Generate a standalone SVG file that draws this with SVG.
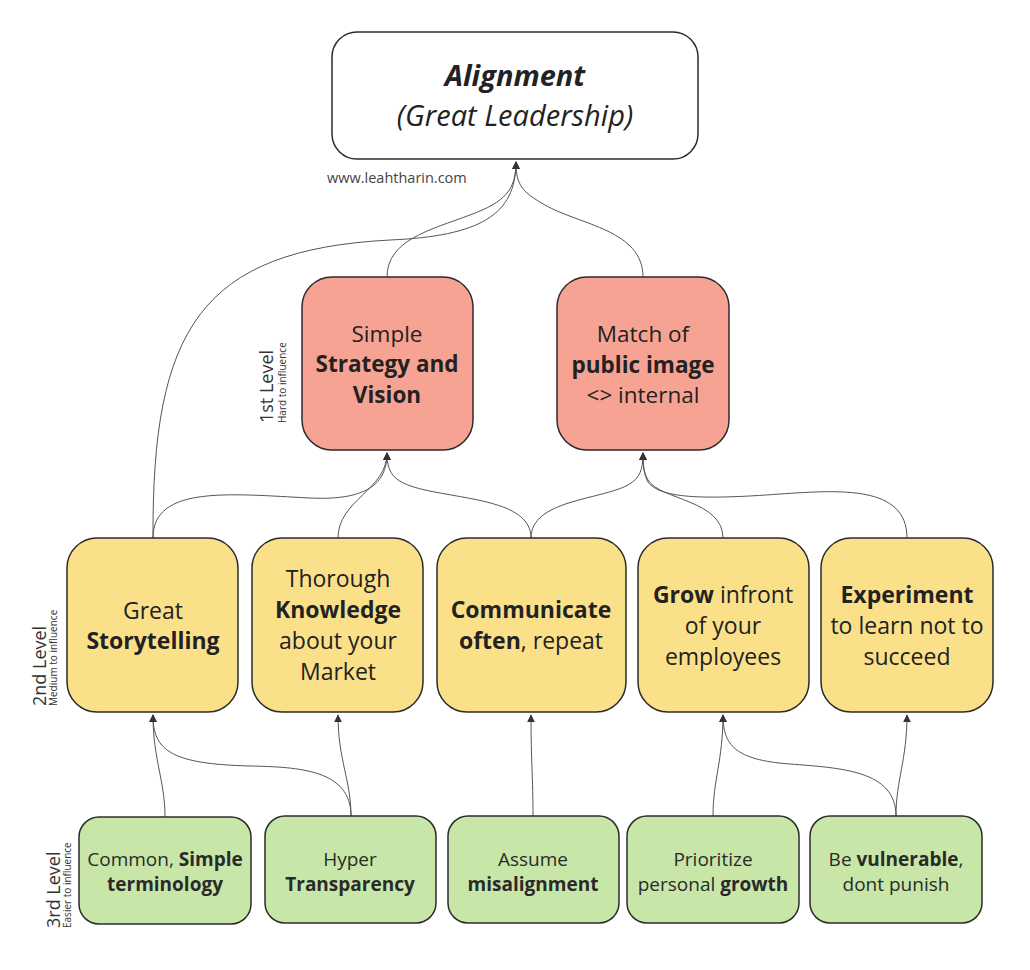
<svg xmlns="http://www.w3.org/2000/svg" width="1030" height="970" viewBox="0 0 1030 970">
<defs>
<marker id="arr" viewBox="0 0 10 10" refX="9" refY="5" markerWidth="8" markerHeight="8" markerUnits="userSpaceOnUse" orient="auto">
<path d="M0,0 L10,5 L0,10 z" fill="#333"/>
</marker>
<style>
text{font-family:"Open Sans","Noto Sans","Liberation Sans",sans-serif;fill:#222;}
.box{stroke:#2b2b2b;stroke-width:1.5;}
.red{fill:#F7A393;}
.yel{fill:#FBE08A;}
.grn{fill:#C8E6A8;}
.top{fill:#fff;}
.t22{font-size:22.5px;text-anchor:middle;}
.t23{font-size:23px;text-anchor:middle;}
.t18{font-size:19px;text-anchor:middle;fill:#2a2a2a;}
.b{font-weight:bold;}
.conn path{fill:none;stroke:#555;stroke-width:1;marker-end:url(#arr);}
.lvl{font-size:18px;fill:#333;}
.lvls{font-size:10px;fill:#333;}
</style>
</defs>
<rect width="1030" height="970" fill="#fff"/>

<g id="connectors" class="conn">
<path d="M153,538 C152,330 200,250 390,240 C480,236 516,215 516,162"/>
<path d="M387,277 C387,240 430,230 470,215 C505,202 516,190 516,162"/>
<path d="M643,277 C643,230 580,225 545,205 C522,192 516,185 516,162"/>
<path d="M153,538 C153,485 230,494 310,498 C372,501 387,480 387,453"/>
<path d="M338,538 C338,500 387,490 387,453"/>
<path d="M531,538 C531,502 470,500 425,490 C395,483 387,475 387,453"/>
<path d="M531,538 C531,500 600,500 628,485 C640,478 643,470 643,453"/>
<path d="M723,538 C723,500 660,500 648,480 C644,473 643,466 643,453"/>
<path d="M907,538 C907,485 840,490 780,494 C700,500 660,498 648,482 C644,475 643,466 643,453"/>
<path d="M165,817 C165,780 153,760 153,715"/>
<path d="M351,816 C351,770 300,767 250,766 C170,764 153,750 153,715"/>
<path d="M351,816 C351,780 338,760 338,715"/>
<path d="M533,816 C533,780 531,760 531,715"/>
<path d="M713,816 C713,780 723,760 723,715"/>
<path d="M896,816 C896,770 840,768 790,764 C735,760 723,745 723,715"/>
<path d="M896,816 C896,780 907,760 907,715"/>
</g>

<g id="n-alignment">
<rect class="box top" x="332" y="32" width="366" height="127" rx="25"/>
<text x="515" y="86" style="font-size:29px;text-anchor:middle;font-weight:bold;font-style:italic;">Alignment</text>
<text x="515" y="126" style="font-size:29px;text-anchor:middle;font-style:italic;">(Great Leadership)</text>
</g>
<g id="url">
<text x="327" y="183" style="font-size:14.5px;fill:#444;">www.leahtharin.com</text>
</g>

<g id="n-strategy">
<rect class="box red" x="302" y="277" width="171" height="173" rx="30"/>
<text class="t22" x="387" y="342">Simple</text>
<text class="t22 b" x="387" y="372">Strategy and</text>
<text class="t22 b" x="387" y="403">Vision</text>
</g>
<g id="n-publicimage">
<rect class="box red" x="557" y="277" width="172" height="173" rx="30"/>
<text class="t22" x="643" y="342">Match of</text>
<text class="t22 b" x="643" y="373">public image</text>
<text class="t22" x="643" y="403">&lt;&gt; internal</text>
</g>

<g id="n-storytelling">
<rect class="box yel" x="67" y="538" width="171" height="174" rx="30"/>
<text class="t23" x="153" y="619">Great</text>
<text class="t23 b" x="153" y="649">Storytelling</text>
</g>
<g id="n-knowledge">
<rect class="box yel" x="252" y="538" width="171" height="174" rx="30"/>
<text class="t23" x="338" y="587">Thorough</text>
<text class="t23 b" x="338" y="618">Knowledge</text>
<text class="t23" x="338" y="649">about your</text>
<text class="t23" x="338" y="680">Market</text>
</g>
<g id="n-communicate">
<rect class="box yel" x="437" y="538" width="189" height="174" rx="30"/>
<text class="t23 b" x="531" y="618">Communicate</text>
<text class="t23" x="531" y="649"><tspan class="b">often</tspan>, repeat</text>
</g>
<g id="n-grow">
<rect class="box yel" x="638" y="538" width="171" height="174" rx="30"/>
<text class="t23" x="723" y="603"><tspan class="b">Grow</tspan> infront</text>
<text class="t23" x="723" y="634">of your</text>
<text class="t23" x="723" y="665">employees</text>
</g>
<g id="n-experiment">
<rect class="box yel" x="821" y="538" width="172" height="174" rx="30"/>
<text class="t23 b" x="907" y="603">Experiment</text>
<text class="t23" x="907" y="634">to learn not to</text>
<text class="t23" x="907" y="665">succeed</text>
</g>

<g id="n-terminology">
<rect class="box grn" x="79" y="817" width="172" height="107" rx="20"/>
<text class="t18" x="165" y="866">Common, <tspan class="b">Simple</tspan></text>
<text class="t18 b" x="165" y="891">terminology</text>
</g>
<g id="n-transparency">
<rect class="box grn" x="265" y="816" width="171" height="107" rx="20"/>
<text class="t18" x="350" y="866">Hyper</text>
<text class="t18 b" x="350" y="891">Transparency</text>
</g>
<g id="n-misalignment">
<rect class="box grn" x="448" y="816" width="171" height="107" rx="20"/>
<text class="t18" x="533" y="866">Assume</text>
<text class="t18 b" x="533" y="891">misalignment</text>
</g>
<g id="n-growth">
<rect class="box grn" x="627" y="816" width="172" height="107" rx="20"/>
<text class="t18" x="713" y="866">Prioritize</text>
<text class="t18" x="713" y="891">personal <tspan class="b">growth</tspan></text>
</g>
<g id="n-vulnerable">
<rect class="box grn" x="810" y="816" width="172" height="107" rx="20"/>
<text class="t18" x="896" y="866">Be <tspan class="b">vulnerable</tspan>,</text>
<text class="t18" x="896" y="891">dont punish</text>
</g>

<g id="level-labels">
<text class="lvl" transform="translate(273,423) rotate(-90)">1st Level</text>
<text class="lvls" transform="translate(286,423) rotate(-90)">Hard to influence</text>
<text class="lvl" transform="translate(46,706) rotate(-90)">2nd Level</text>
<text class="lvls" transform="translate(57,706) rotate(-90)">Medium to influence</text>
<text class="lvl" transform="translate(60,928) rotate(-90)">3rd Level</text>
<text class="lvls" transform="translate(71,928) rotate(-90)">Easier to influence</text>
</g>
</svg>
